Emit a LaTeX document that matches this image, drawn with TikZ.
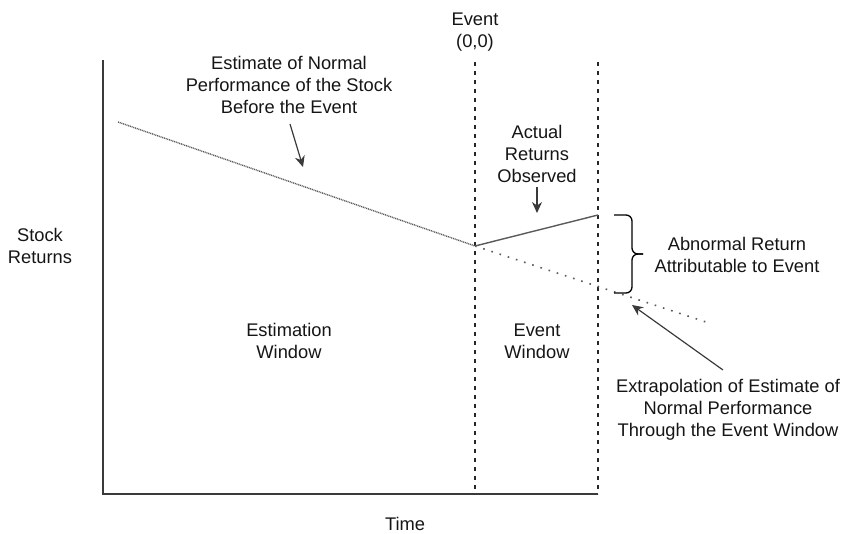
\documentclass[tikz,border=0pt]{standalone}
\usepackage{fontspec}
\setmainfont{Liberation Sans}
\usetikzlibrary{arrows.meta}
\definecolor{axiscol}{HTML}{3A3A3A}
\definecolor{linecol}{HTML}{5A5A5A}
\definecolor{txtcol}{HTML}{151515}
\tikzset{
  lbl/.style={align=center, inner sep=0pt, text=txtcol, font=\fontsize{18.3}{22}\selectfont},
  axisline/.style={line width=1.6pt, draw=axiscol},
  vdash/.style={line width=1.2pt, draw=black!85, dash pattern=on 4pt off 5pt},
  estline/.style={line width=1.4pt, draw=linecol, dash pattern=on 1pt off 0.8pt},
  extline/.style={line width=1.6pt, draw=linecol, dash pattern=on 1.6pt off 7pt},
  actline/.style={line width=1.4pt, draw=linecol},
  bracestyle/.style={line width=1.3pt, draw=black, rounded corners=6pt},
  ptr/.style={line width=1.2pt, draw=axiscol, -{Stealth[length=11pt,width=10pt]}},
}
\begin{document}
\begin{tikzpicture}[x=1pt,y=1pt]
\useasboundingbox (0,0) rectangle (845,-533);
% axes
\coordinate (ytop) at (103,-60);
\coordinate (orig) at (103,-494);
\coordinate (xend) at (598,-494);
\draw[axisline] (ytop) -- (orig) -- (xend);
% event window lines
\coordinate (e1top) at (475,-62);
\coordinate (e1bot) at (475,-494);
\coordinate (e2top) at (598,-62);
\coordinate (e2bot) at (598,-494);
\draw[vdash] (e1top) -- (e1bot);
\draw[vdash] (e2top) -- (e2bot);
% lines
\coordinate (estart) at (118,-122);
\coordinate (ezero) at (475,-246);
\coordinate (aend) at (598,-215);
\coordinate (xtend) at (706,-322);
\draw[estline] (estart) -- (ezero);
\draw[actline] (ezero) -- (aend);
\draw[extline] (ezero) -- (xtend);
% brace
\coordinate (btop) at (614,-215);
\coordinate (bbot) at (614,-293);
\coordinate (bmid) at (632,-254);
\coordinate (btip) at (643,-254);
\draw[bracestyle] (btop) -| (bmid) -- (btip);
\draw[bracestyle] (bbot) -| (bmid) -- (btip);
% labels
\node[lbl] (event) at (475,-32) {Event\\(0,0)};
\node[lbl] (estimate) at (289,-85) {Estimate of Normal\\Performance of the Stock\\Before the Event};
\node[lbl] (actual) at (537,-154) {Actual\\Returns\\Observed};
\node[lbl] (abnormal) at (737,-254.5) {Abnormal Return\\Attributable to Event};
\node[lbl] (stock) at (40,-246) {Stock\\Returns};
\node[lbl] (estwin) at (289,-341) {Estimation\\Window};
\node[lbl] (evwin) at (537,-341) {Event\\Window};
\node[lbl] (extrap) at (728,-410) {Extrapolation of Estimate of\\Normal Performance\\Through the Event Window};
\node[lbl] (time) at (405,-524) {Time};
% pointers
\coordinate (p1s) at (290,-124);
\coordinate (p1e) at (303,-167);
\draw[ptr] (p1s) -- (p1e);
\coordinate (p2s) at (537,-187);
\coordinate (p2e) at (537,-213);
\draw[ptr] (p2s) -- (p2e);
\coordinate (p3s) at (723,-370);
\coordinate (p3e) at (632,-305);
\draw[ptr] (p3s) -- (p3e);
\end{tikzpicture}
\end{document}
